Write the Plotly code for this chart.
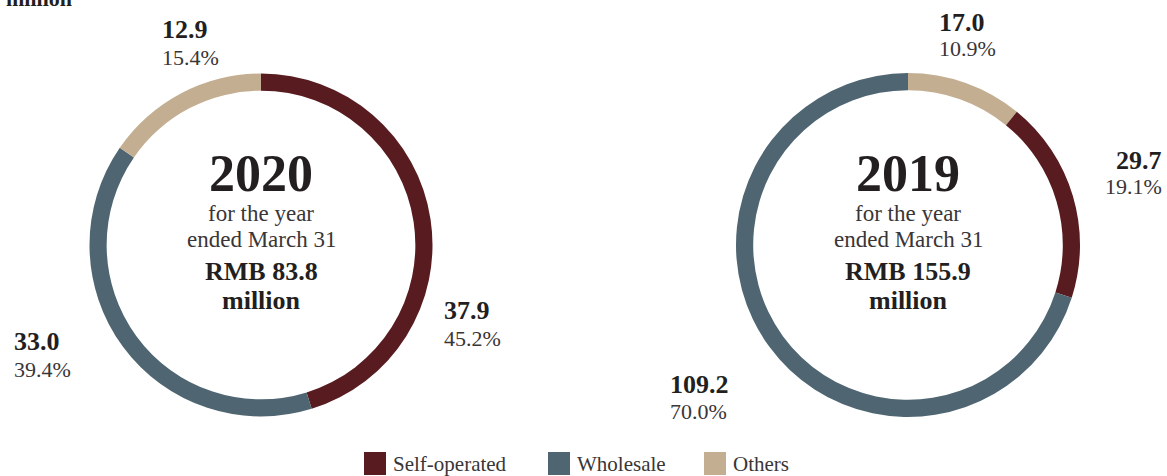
import plotly.graph_objects as go

W, H = 1167, 476

categories = ["Self-operated", "Wholesale", "Others"]
colors = {"Self-operated": "#581c20", "Wholesale": "#4f6672", "Others": "#c4ae91"}

# 2020 (order drawn clockwise from top)
order_2020 = ["Self-operated", "Wholesale", "Others"]
values_2020 = [37.9, 33.0, 12.9]
pct_2020 = ["45.2%", "39.4%", "15.4%"]
total_2020 = "RMB 83.8"

# 2019
order_2019 = ["Others", "Self-operated", "Wholesale"]
values_2019 = [17.0, 29.7, 109.2]
pct_2019 = ["10.9%", "19.1%", "70.0%"]
total_2019 = "RMB 155.9"

FONT = "Liberation Serif"
TXT = "#231f20"
TXT2 = "#3a3536"

def px_dom(cx, cy, r):
    return dict(x=[(cx - r) / W, (cx + r) / W], y=[(H - cy - r) / H, (H - cy + r) / H])

fig = go.Figure()
fig.add_trace(go.Pie(labels=order_2020, values=values_2020, hole=0.9, sort=False,
                     direction="clockwise", rotation=0, textinfo="none",
                     marker=dict(colors=[colors[c] for c in order_2020], line=dict(width=0)),
                     domain=px_dom(261, 245, 171.5), showlegend=False, hoverinfo="label+value"))
fig.add_trace(go.Pie(labels=order_2019, values=values_2019, hole=0.9, sort=False,
                     direction="clockwise", rotation=0, textinfo="none",
                     marker=dict(colors=[colors[c] for c in order_2019], line=dict(width=0)),
                     domain=px_dom(908, 245, 172), showlegend=False, hoverinfo="label+value"))

ann = []
def A(x, y, text, size, bold=False, xanchor="left", color=TXT):
    t = f"<b>{text}</b>" if bold else text
    ann.append(dict(x=x / W, y=1 - y / H, xref="paper", yref="paper", text=t, showarrow=False,
                    xanchor=xanchor, yanchor="middle", font=dict(family=FONT, size=size, color=color)))

# cut-off unit text at top-left (partially visible in the reference)
A(74, -2, "million", 22, True, "right")

# center texts
for cx, year, tot in [(261, "2020", total_2020), (908, "2019", total_2019)]:
    A(cx, 173, year, 52, True, "center")
    A(cx, 214, "for the year", 23, False, "center", TXT2)
    A(cx, 239, "ended March 31", 23, False, "center", TXT2)
    A(cx, 271, tot, 26, True, "center")
    A(cx, 300, "million", 26, True, "center")

# 2020 slice labels
lab_2020 = {"Self-operated": (442, 310, "left"), "Wholesale": (12, 341, "left"), "Others": (160, 29, "left")}
for c, v, p in zip(order_2020, values_2020, pct_2020):
    x, y, a = lab_2020[c]
    A(x, y, f"{v:.1f}", 26, True, a)
    A(x, y + 28, p, 22, False, a, TXT2)

lab_2019 = {"Others": (937, 22, "left"), "Self-operated": (1164, 160, "right"), "Wholesale": (668, 384, "left")}
for c, v, p in zip(order_2019, values_2019, pct_2019):
    x, y, a = lab_2019[c]
    A(x, y, f"{v:.1f}", 26, True, a)
    A(x, y + 27, p, 22, False, a, TXT2)

# manual legend
shapes = []
leg_x = [364, 548, 704]
for c, lx in zip(categories, leg_x):
    shapes.append(dict(type="rect", xref="paper", yref="paper",
                       x0=lx / W, x1=(lx + 22) / W, y0=1 - 475 / H, y1=1 - 452 / H,
                       fillcolor=colors[c], line=dict(width=0)))
    A(lx + 27, 464, c, 21, False, "left", TXT2)

fig.update_layout(width=W, height=H, margin=dict(l=0, r=0, t=0, b=0),
                  paper_bgcolor="white", plot_bgcolor="white",
                  annotations=ann, shapes=shapes)
fig.write_html("out.html")
